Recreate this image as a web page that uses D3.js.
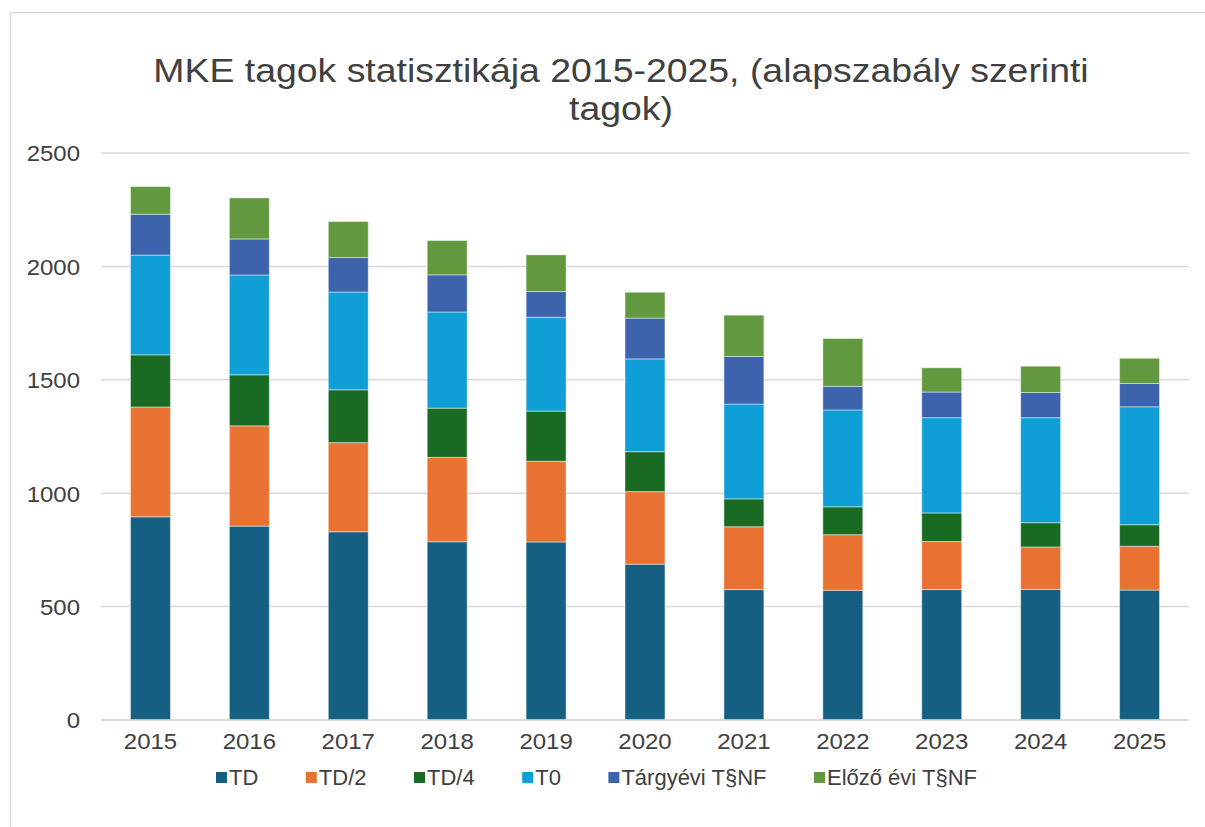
<!DOCTYPE html>
<html><head><meta charset="utf-8">
<script src="https://cdn.jsdelivr.net/npm/d3@7"></script>
<style>body{margin:0;background:#fff;} text{font-family:"Liberation Sans",Arial,sans-serif;}</style>
</head><body>
<svg id="c" width="1205" height="827"></svg>
<script>
const years = ["2015","2016","2017","2018","2019","2020","2021","2022","2023","2024","2025"];
const seriesNames = ["TD","TD/2","TD/4","T0","Tárgyévi T§NF","Előző évi T§NF"];
const TD      = [896,855,830,786,785,687,575,572,575,576,573];
const TD2     = [484,442,393,372,356,320,277,245,212,187,193];
const TD4     = [230,225,233,217,221,176,123,123,126,107, 95];
const T0      = [440,440,431,424,414,409,418,427,420,463,520];
const Targy   = [180,159,152,164,113,180,210,104,113,111,103];
const Elozo   = [122,181,159,151,162,114,182,211,107,116,111];
const yTicks  = [0,500,1000,1500,2000,2500];
const colors  = ["#156082","#E97132","#196B24","#0F9ED5","#3C63AC","#62993E"];
const titleLines = ["MKE tagok statisztikája 2015-2025, (alapszabály szerinti","tagok)"];

(function(){
const SX = 1.09; // horizontal glyph stretch seen in the reference
const seriesVals = [TD,TD2,TD4,T0,Targy,Elozo];
const rows = years.map((yr,i)=>{const r={year:yr}; seriesNames.forEach((s,k)=>r[s]=seriesVals[k][i]); return r;});
const stack = d3.stack().keys(seriesNames)(rows);

const svg = d3.select("#c");
const W=1205,H=827;
svg.append("rect").attr("x",10.5).attr("y",12.5).attr("width",W).attr("height",H).attr("fill","#fff").attr("stroke","#d9d9d9").attr("stroke-width",1.5);

const pL=101,pR=1189,pT=153,pB=720;
const x = d3.scaleBand().domain(years).range([pL,pR]).paddingInner(0.596).paddingOuter(0.298);
const y = d3.scaleLinear().domain([0,2500]).range([pB,pT]);

svg.append("g").selectAll("line").data(yTicks).join("line")
  .attr("x1",pL).attr("x2",pR).attr("y1",d=>y(d)).attr("y2",d=>y(d))
  .attr("stroke","#d9d9d9").attr("stroke-width",1.5);

const yAxis = svg.append("g").attr("transform",`translate(${pL},0)`)
  .call(d3.axisLeft(y).tickValues(yTicks).tickSize(0).tickPadding(21).tickFormat(d3.format("d")));
yAxis.select(".domain").remove();
yAxis.selectAll("text").attr("fill","#404040").style("font-size","22px").style("font-family","'Liberation Sans',Arial,sans-serif")
  .attr("dy","0.36em").attr("x",-21/SX).attr("transform",`scale(${SX},1)`);

svg.append("g").selectAll("g").data(stack).join("g")
  .attr("fill",(d,i)=>colors[i])
  .selectAll("rect").data(d=>d).join("rect")
  .attr("x",d=>x(d.data.year)).attr("width",x.bandwidth())
  .attr("y",d=>y(d[1])).attr("height",d=>y(d[0])-y(d[1]))
  .attr("stroke","rgba(255,255,255,0.45)").attr("stroke-width",1);

const xAxis = svg.append("g").attr("transform",`translate(0,${pB})`)
  .call(d3.axisBottom(x).tickSize(0).tickPadding(21));
xAxis.select(".domain").remove();
xAxis.selectAll("text").attr("fill","#404040").style("font-size","22px").style("font-family","'Liberation Sans',Arial,sans-serif")
  .attr("dy","0.36em").attr("transform",`scale(${SX},1)`);
svg.append("line").attr("x1",pL).attr("x2",pR).attr("y1",pB).attr("y2",pB).attr("stroke","#d9d9d9").attr("stroke-width",1.5);

const tg = svg.append("g").attr("transform","translate(621,0) scale(1.1,1)");
const title = tg.append("text").attr("text-anchor","middle").attr("fill","#404040").style("font-size","34px");
titleLines.forEach((t,i)=>title.append("tspan").attr("x",0).attr("y",82+i*38).text(t));

const lg = svg.append("g");
let lx = 216;
seriesNames.forEach((s,i)=>{
  lg.append("rect").attr("x",lx).attr("y",772).attr("width",11).attr("height",11).attr("fill",colors[i]);
  const t = lg.append("text").attr("x",lx+13).attr("y",785).attr("fill","#404040").style("font-size","22px").text(s);
  lx += 13 + t.node().getComputedTextLength() + 47.5;
});
})();
</script>
</body></html>
